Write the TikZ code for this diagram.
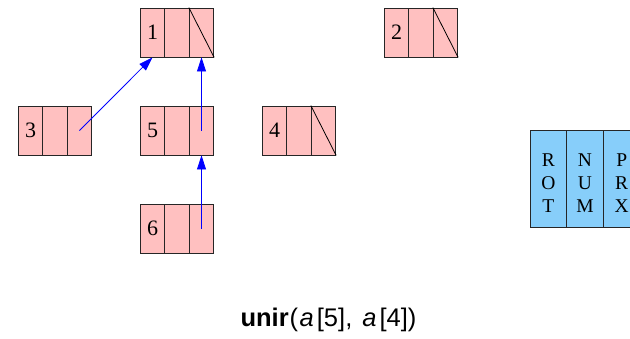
\documentclass[tikz,border=0pt]{standalone}
\usepackage{fontspec}
\setmainfont{Liberation Serif}
\setsansfont{Liberation Sans}
\usetikzlibrary{arrows.meta}
\definecolor{cellpink}{HTML}{FFC0C0}
\definecolor{keyblue}{HTML}{87CEFA}
\tikzset{
  cell/.style={draw=black!85, fill=cellpink, line width=0.8pt, minimum width=24.5pt,
    minimum height=49pt, inner sep=0pt, font=\fontsize{22}{24}\selectfont},
  keycell/.style={draw=black!85, fill=keyblue, line width=0.8pt, minimum width=36.7pt,
    minimum height=97pt, inner sep=0pt},
  keytext/.style={align=center, inner sep=0pt, font=\fontsize{19.5}{23.3}\selectfont},
  link/.style={draw=blue, line width=0.8pt, -{Triangle[length=14pt,width=9pt]}},
  nullmark/.style={draw=black, line width=0.8pt}
}
% one record: number cell, rank cell, pointer cell
\newcommand{\record}[4]{%
  \node[cell] (#1-1) at (#2,#3) {#4};
  \node[cell] (#1-2) at (#2+24.5,#3) {};
  \node[cell] (#1-3) at (#2+49,#3) {};
}
\begin{document}
\begin{tikzpicture}[x=1pt,y=-1pt]
\useasboundingbox (0,0) rectangle (630,338);

\record{n1}{152.5}{32.5}{1}
\record{n2}{396.5}{32.5}{2}
\record{n3}{30.5}{130.5}{3}
\record{n5}{152.5}{130.5}{5}
\record{n4}{274.5}{130.5}{4}
\record{n6}{152.5}{228.5}{6}

% roots: null parent pointer
\draw[nullmark] (n1-3.north west) -- (n1-3.south east);
\draw[nullmark] (n2-3.north west) -- (n2-3.south east);
\draw[nullmark] (n4-3.north west) -- (n4-3.south east);

% parent links
\draw[link] (n3-3.center) -- (n1-1.south);
\draw[link] (n5-3.center) -- (n1-3.south);
\draw[link] (n6-3.center) -- (n5-3.south);

% field key
\node[keycell] (k1) at (548.3,178.5) {};
\node[keycell] (k2) at (585,178.5) {};
\node[keycell] (k3) at (621.7,178.5) {};
\node[keytext] (t1) at (548.3,183) {R\\O\\T};
\node[keytext] (t2) at (585,183) {N\\U\\M};
\node[keytext] (t3) at (621.7,183) {P\\R\\X};

\node[font=\sffamily\fontsize{25.5}{28}\selectfont, anchor=base] (cap) at (328.5,326)
  {\textbf{unir}\kern1pt(\kern1.5pt\textit{a}\kern3pt[5], \kern3pt\textit{a}\kern3pt[4])};
\end{tikzpicture}
\end{document}
